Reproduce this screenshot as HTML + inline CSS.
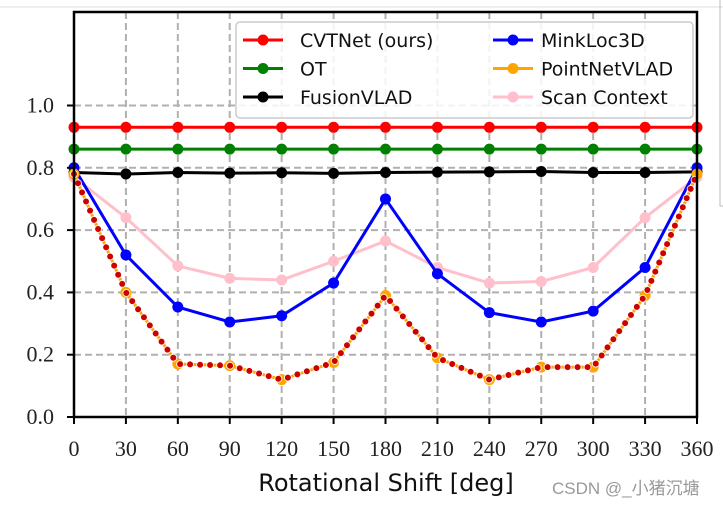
<!DOCTYPE html>
<html><head><meta charset="utf-8"><style>
body{margin:0;background:#fff;width:723px;height:506px;overflow:hidden}
svg{display:block}
.tk{font-family:"Liberation Serif",serif;font-size:22px;fill:#222}
.lg{font-family:"DejaVu Sans","Liberation Sans",sans-serif;font-size:19px;fill:#111}
</style></head><body>
<svg id="c" width="723" height="506">
<line x1="0" y1="7" x2="723" y2="7" stroke="#ddd"/>
<polyline points="720,0 720,206 723,206" fill="none" stroke="#bbb"/>
<g id="grid"></g><g id="series"></g><g id="axes"></g><g id="legend"></g>
<text x="386" y="491" text-anchor="middle" font-family="DejaVu Sans, Liberation Sans, sans-serif" font-size="24" fill="#111">Rotational Shift [deg]</text>
<text x="552" y="494" font-family="Liberation Sans, Noto Sans CJK SC, sans-serif" font-size="17" fill="#999">CSDN @_小猪沉塘</text>
</svg>
<script>
const xTicks=[0,30,60,90,120,150,180,210,240,270,300,330,360];
const yTicks=[0.0,0.2,0.4,0.6,0.8,1.0];
const cvtnet=[0.93,0.93,0.93,0.93,0.93,0.93,0.93,0.93,0.93,0.93,0.93,0.93,0.93];
const ot=[0.86,0.86,0.86,0.86,0.86,0.86,0.86,0.86,0.86,0.86,0.86,0.86,0.86];
const fusionvlad=[0.785,0.78,0.785,0.783,0.784,0.782,0.785,0.786,0.787,0.788,0.785,0.785,0.787];
const minkloc=[0.80,0.52,0.353,0.305,0.325,0.43,0.70,0.46,0.335,0.305,0.34,0.48,0.80];
const pointnetvlad=[0.78,0.40,0.17,0.165,0.12,0.175,0.39,0.19,0.12,0.16,0.16,0.39,0.78];
const scancontext=[0.77,0.64,0.485,0.445,0.44,0.50,0.565,0.48,0.43,0.435,0.48,0.64,0.77];
const L=74,R=697,T=12,B=417;
const X=v=>L+(v/360)*(R-L);
const Y=v=>B-v*311.5;
const NS="http://www.w3.org/2000/svg";
function mk(tag,attrs,parent){const e=document.createElementNS(NS,tag);for(const k in attrs)e.setAttribute(k,attrs[k]);parent.appendChild(e);return e;}
const grid=document.getElementById('grid'),ser=document.getElementById('series'),ax=document.getElementById('axes'),lg=document.getElementById('legend');
xTicks.forEach(t=>{const l=mk('line',{x1:X(t),x2:X(t),y1:T,y2:B,stroke:'#b0b0b0','stroke-width':2,'stroke-dasharray':'7 4'},grid);


const tk=mk('line',{x1:X(t),x2:X(t),y1:B,y2:B+7,stroke:'#000','stroke-width':2},ax);


const tx=mk('text',{x:X(t),y:B+39,'text-anchor':'middle',class:'tk'},ax);tx.textContent=t;

});
yTicks.forEach(t=>{const l=mk('line',{x1:L,x2:R,y1:Y(t),y2:Y(t),stroke:'#b0b0b0','stroke-width':2,'stroke-dasharray':'7 4'},grid);


const tk=mk('line',{x1:L-7,x2:L,y1:Y(t),y2:Y(t),stroke:'#000','stroke-width':2},ax);


const tx=mk('text',{x:L-20,y:Y(t)+7,'text-anchor':'end',class:'tk'},ax);tx.textContent=t.toFixed(1);

});
const frame=mk('rect',{x:L,y:T,width:R-L,height:B-T,fill:'none',stroke:'#000','stroke-width':2.5},ax);


function pts(a){return a.map((v,i)=>X(xTicks[i])+','+Y(v)).join(' ');}
function line(a,color,name){const g=mk('g',{},ser);


mk('polyline',{points:pts(a),fill:'none',stroke:color,'stroke-width':3},g);
a.forEach((v,i)=>{const c=mk('circle',{cx:X(xTicks[i]),cy:Y(v),r:5.5,fill:color},g);

});return g;}
line(scancontext,'#ffc0cb','scan-context-series');
line(fusionvlad,'#000','fusionvlad-series');
line(ot,'#008000','ot-series');
line(cvtnet,'#ff0000','cvtnet-series');
line(minkloc,'#0000ff','minkloc3d-series');
const pg=line(pointnetvlad,'#ffa500','pointnetvlad-series');
const dw=mk('polyline',{points:pts(pointnetvlad),fill:'none',stroke:'#fff','stroke-width':8,'stroke-linecap':'round','stroke-dasharray':'0 10','stroke-opacity':0.8},pg);


const dr=mk('polyline',{points:pts(pointnetvlad),fill:'none',stroke:'#cc0000','stroke-width':6,'stroke-linecap':'round','stroke-dasharray':'0 10'},pg);


const box=mk('rect',{x:236,y:22,width:457,height:96,rx:4,fill:'#fff','fill-opacity':0.85,stroke:'#ccc','stroke-width':1.5},lg);


const names=['CVTNet (ours)','OT','FusionVLAD','MinkLoc3D','PointNetVLAD','Scan Context'];
const colors=['#ff0000','#008000','#000','#0000ff','#ffa500','#ffc0cb'];
names.forEach((n,i)=>{const col=i<3?0:1,row=i%3;const x0=col?493:243,y0=40+row*28.5;
const g=mk('g',{},lg);


mk('line',{x1:x0,x2:x0+40,y1:y0,y2:y0,stroke:colors[i],'stroke-width':3},g);
mk('circle',{cx:x0+20,cy:y0,r:5.5,fill:colors[i]},g);
const t=mk('text',{x:x0+(col?48:57),y:y0+7,class:'lg'},g);t.textContent=n;});
</script>
</body></html>
